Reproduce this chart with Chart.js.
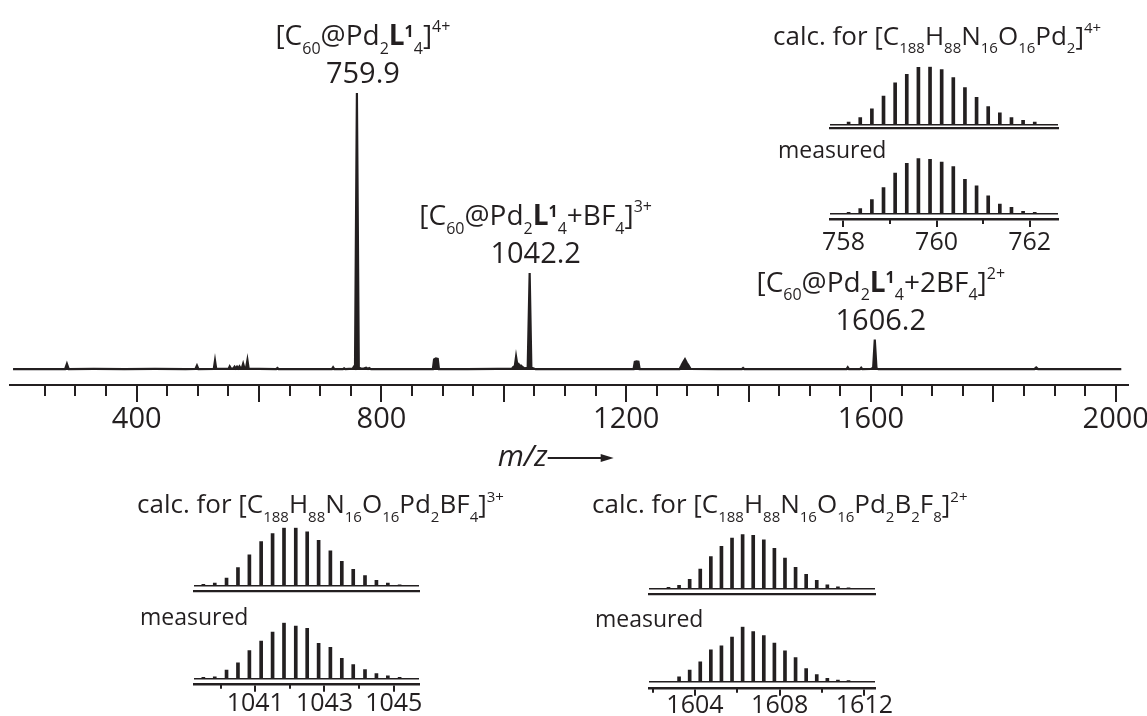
<!DOCTYPE html>
<html>
<head>
<meta charset="utf-8">
<title>ESI mass spectrum</title>
<script src="https://cdn.jsdelivr.net/npm/chart.js@4.4.1/dist/chart.umd.min.js"></script>
<style>
  html, body { margin: 0; padding: 0; background: #fff; width: 1147px; height: 716px; overflow: hidden; }
  .box { position: absolute; }
</style>
</head>
<body>
<div class="box" id="mainBox" style="left:0;top:0;width:1170px;height:716px"><canvas id="main"></canvas></div>
<script>
// full spectrum, m/z against relative intensity (%)
var specMz = [198, 240, 283, 286, 289, 330, 380, 430, 480, 496, 498.5, 501, 526, 528, 530, 550, 552, 554,
  558, 560, 562, 564, 566, 568, 570, 572, 574, 576, 579, 581, 583, 600, 628, 630, 632, 680, 719, 721, 723,
  737, 739, 741, 753, 755, 756.8, 759.9, 763, 766, 770, 775, 778, 780, 783, 830, 884, 886, 889, 892, 894,
  940, 990, 1013, 1015, 1018, 1020, 1022, 1024, 1026, 1028, 1031, 1034, 1039, 1042.2, 1045, 1048, 1052,
  1100, 1160, 1212, 1214, 1217, 1220, 1222, 1260, 1287, 1290, 1293, 1296, 1299, 1302, 1305, 1350, 1389,
  1391, 1393, 1450, 1500, 1560, 1562, 1564, 1582, 1584, 1586, 1600, 1603.5, 1606.2, 1609, 1612, 1680,
  1760, 1867, 1870, 1873, 1940, 2009];
var specInt = [0.3, 0.3, 0.3, 2.2, 0.3, 0.4, 0.3, 0.4, 0.3, 0.4, 1.6, 0.3, 0.4, 3.4, 0.4, 0.4, 1.3, 0.5,
  0.6, 1.2, 0.6, 1.2, 0.6, 1.3, 0.6, 0.8, 2.3, 0.8, 1.0, 3.6, 0.5, 0.4, 0.3, 0.7, 0.3, 0.3, 0.3, 1.0, 0.3,
  0.3, 0.6, 0.3, 0.5, 1.2, 0.8, 100, 0.8, 0.6, 0.4, 0.8, 0.4, 0.7, 0.3, 0.3, 0.3, 3.8, 4.2, 4.0, 0.3,
  0.3, 0.4, 0.4, 1.0, 1.5, 4.8, 2.0, 2.2, 1.4, 1.6, 1.0, 0.6, 0.8, 35, 0.8, 0.6, 0.3,
  0.3, 0.3, 0.3, 2.9, 3.1, 3.0, 0.3, 0.3, 0.3, 1.5, 2.8, 3.9, 2.6, 1.6, 0.4, 0.3, 0.3,
  0.7, 0.3, 0.3, 0.3, 0.3, 1.0, 0.3, 0.3, 0.8, 0.3, 0.4, 0.8, 11, 0.6, 0.3, 0.3,
  0.3, 0.3, 0.9, 0.3, 0.3, 0.3];

var mainRange = [193, 2020];
var mainMajor = [400, 600, 800, 1000, 1200, 1400, 1600, 1800, 2000];
var mainLabels = [400, 800, 1200, 1600, 2000];
var mainMinor = [250, 300, 350, 450, 500, 550, 650, 700, 750, 850, 900, 950, 1050, 1100, 1150, 1250, 1300,
  1350, 1450, 1500, 1550, 1650, 1700, 1750, 1850, 1900, 1950];

// labelled peaks
var labelMz = [759.9, 1042.2, 1606.2];
var labelInt = [100, 35, 11];
var labelText = ['759.9', '1042.2', '1606.2'];

// isotope patterns: 4+ ion
var mz759 = [758.11, 758.36, 758.61, 758.86, 759.11, 759.36, 759.61, 759.86, 760.11, 760.36, 760.61,
  760.86, 761.11, 761.36, 761.61, 761.86, 762.11];
var calc759 = [4, 12, 27, 49, 72, 87, 99, 100, 95, 81, 64, 47, 31, 20, 12, 7, 4];
var meas759 = [2, 9, 25, 47, 73, 91, 100, 98, 93, 85, 62, 50, 32, 17, 11, 4, 2];
var range759 = [757.71, 762.61];
var major759 = [758, 760, 762];
var minor759 = [759, 761];

// 3+ ion
var mz1042 = [1039.50, 1039.83, 1040.17, 1040.50, 1040.83, 1041.17, 1041.50, 1041.83, 1042.17, 1042.50,
  1042.83, 1043.17, 1043.50, 1043.83, 1044.17, 1044.50, 1044.83, 1045.17];
var calc1042 = [2, 4, 13, 31, 53, 76, 90, 100, 100, 93, 78, 60, 42, 28, 17, 9, 4, 1];
var meas1042 = [2, 3, 15, 28, 50, 67, 83, 100, 94, 90, 63, 56, 36, 25, 16, 9, 5, 2];
var range1042 = [1039.23, 1045.73];
var major1042 = [1041, 1043, 1045];
var minor1042 = [1040, 1042, 1044];

// 2+ ion
var mz1606 = [1602.75, 1603.25, 1603.75, 1604.25, 1604.75, 1605.25, 1605.75, 1606.25, 1606.75, 1607.25,
  1607.75, 1608.25, 1608.75, 1609.25, 1609.75, 1610.25, 1610.75, 1611.25];
var calc1606 = [2, 6, 17, 36, 59, 78, 93, 100, 98, 90, 74, 56, 39, 26, 15, 7, 3, 1];
var meas1606 = [0, 9, 21, 36, 58, 65, 81, 100, 91, 84, 70, 56, 44, 24, 13, 6, 3, 2];
var range1606 = [1601.83, 1612.5];
var major1606 = [1604, 1608, 1612];
var minor1606 = [1602, 1606, 1610];

var INK = '#231f20';
var FONT = '"Open Sans", "Noto Sans", sans-serif';

// formulas as runs of [text, kind]
var ionMain = [['[C', ''], ['60', 'sub'], ['@Pd', ''], ['2', 'sub'], ['L', 'b'], ['1', 'bsup'], ['4', 'sub']];
var ionLabels = [
  ionMain.concat([[']', ''], ['4+', 'sup']]),
  ionMain.concat([['+BF', ''], ['4', 'sub'], [']', ''], ['3+', 'sup']]),
  ionMain.concat([['+2BF', ''], ['4', 'sub'], [']', ''], ['2+', 'sup']])
];
var calcMain = [['calc. for [C', ''], ['188', 'sub'], ['H', ''], ['88', 'sub'], ['N', ''], ['16', 'sub'],
  ['O', ''], ['16', 'sub'], ['Pd', ''], ['2', 'sub']];
var calcTitles = [
  calcMain.concat([[']', ''], ['4+', 'sup']]),
  calcMain.concat([['BF', ''], ['4', 'sub'], [']', ''], ['3+', 'sup']]),
  calcMain.concat([['B', ''], ['2', 'sub'], ['F', ''], ['8', 'sub'], [']', ''], ['2+', 'sup']])
];

function drawRich(ctx, runs, x, y, size, center) {
  var small = Math.round(size * 0.57);
  var parts = runs.map(function (r) {
    var k = r[1];
    var isSmall = k === 'sub' || k === 'sup' || k === 'bsup';
    var bold = k === 'b' || k === 'bsup';
    var font = (bold ? '700 ' : '') + (isSmall ? small : size) + 'px ' + FONT;
    ctx.font = font;
    var dy = k === 'sub' ? size * 0.32 : k === 'sup' ? -size * 0.45 : k === 'bsup' ? -size * 0.3 : 0;
    return { t: r[0], font: font, w: ctx.measureText(r[0]).width, dy: dy };
  });
  var total = parts.reduce(function (a, p) { return a + p.w; }, 0);
  var cx = center ? x - total / 2 : x;
  ctx.textAlign = 'left';
  ctx.textBaseline = 'alphabetic';
  ctx.fillStyle = INK;
  parts.forEach(function (p) {
    ctx.font = p.font;
    ctx.fillText(p.t, cx, y + p.dy);
    cx += p.w;
  });
}

var minorTicks = {
  id: 'minorTicks',
  afterDraw: function (chart, args, opts) {
    if (!opts.values) return;
    var s = chart.scales.x, ctx = chart.ctx;
    ctx.save();
    ctx.strokeStyle = INK;
    ctx.lineWidth = opts.width;
    opts.values.forEach(function (v) {
      var px = Math.round(s.getPixelForValue(v));
      ctx.beginPath();
      ctx.moveTo(px, s.top);
      ctx.lineTo(px, s.top + opts.length);
      ctx.stroke();
    });
    ctx.restore();
  }
};

var peakLabels = {
  id: 'peakLabels',
  afterDatasetsDraw: function (chart) {
    var xs = chart.scales.x, ys = chart.scales.y, ctx = chart.ctx;
    ctx.save();
    labelMz.forEach(function (m, i) {
      var x = xs.getPixelForValue(m) + 6;
      var yb = ys.getPixelForValue(labelInt[i]) - 10;
      ctx.font = '29px ' + FONT;
      ctx.fillStyle = INK;
      ctx.textAlign = 'center';
      ctx.textBaseline = 'alphabetic';
      ctx.fillText(labelText[i], x, yb);
      drawRich(ctx, ionLabels[i], x, yb - 38, 28, true);
    });
    ctx.restore();
  }
};

var axisTitle = {
  id: 'axisTitle',
  afterDraw: function (chart) {
    var xs = chart.scales.x, ctx = chart.ctx;
    var x = xs.getPixelForValue(990), y = xs.top + 81;
    ctx.save();
    ctx.fillStyle = INK;
    ctx.strokeStyle = INK;
    ctx.font = 'italic 30px ' + FONT;
    ctx.textAlign = 'left';
    ctx.textBaseline = 'alphabetic';
    ctx.fillText('m/z', x, y);
    var x0 = x + ctx.measureText('m/z').width, ya = y - 8;
    ctx.lineWidth = 2;
    ctx.beginPath();
    ctx.moveTo(x0, ya);
    ctx.lineTo(x0 + 56, ya);
    ctx.stroke();
    ctx.beginPath();
    ctx.moveTo(x0 + 66, ya);
    ctx.lineTo(x0 + 53, ya - 4);
    ctx.lineTo(x0 + 53, ya + 4);
    ctx.closePath();
    ctx.fill();
    ctx.restore();
  }
};

var caption = {
  id: 'caption',
  afterDraw: function (chart, args, opts) {
    if (!opts.runs) return;
    var a = chart.chartArea;
    chart.ctx.save();
    drawRich(chart.ctx, opts.runs, a.left + opts.dx, a.top + opts.dy, opts.size, false);
    chart.ctx.restore();
  }
};

new Chart(document.getElementById('main'), {
  type: 'line',
  data: {
    datasets: [{
      data: specMz.map(function (x, i) { return { x: x, y: specInt[i] }; }),
      borderColor: INK,
      backgroundColor: INK,
      borderWidth: 2.2,
      pointRadius: 0,
      tension: 0,
      fill: { value: 0 },
      clip: false
    }]
  },
  options: {
    responsive: true,
    maintainAspectRatio: false,
    animation: false,
    layout: { padding: { left: 10, right: 42, top: 93, bottom: 0 } },
    plugins: {
      legend: { display: false },
      tooltip: { enabled: false },
      filler: { propagate: false },
      minorTicks: { values: mainMinor, length: 11, width: 2 }
    },
    scales: {
      x: {
        type: 'linear',
        min: mainRange[0],
        max: mainRange[1],
        afterBuildTicks: function (s) { s.ticks = mainMajor.map(function (v) { return { value: v }; }); },
        afterFit: function (s) { s.height = 716 - 385; },
        ticks: {
          autoSkip: false,
          maxRotation: 0,
          padding: 0,
          color: INK,
          font: { family: FONT, size: 29 },
          callback: function (v) { return mainLabels.indexOf(v) >= 0 ? String(v) : ''; }
        },
        grid: { drawOnChartArea: false, tickLength: 17, color: INK, lineWidth: 2 },
        border: { color: INK, width: 2 }
      },
      y: { display: false, min: -100 * 15 / 277, max: 100 }
    }
  },
  plugins: [minorTicks, peakLabels, axisTitle]
});

// inset panels: chart-area geometry in page pixels
var panels = [
  { left: 830, right: 1058, top: 66.7, base: 124.5, axis: 128.5, mz: mz759, vals: calc759, range: range759,
    title: calcTitles[0], dx: -57, dy: -21.7, size: 26 },
  { left: 830, right: 1058, top: 158.3, base: 213.5, axis: 219.5, mz: mz759, vals: meas759, range: range759,
    title: [['measured', '']], dx: -52, dy: 0, size: 23, major: major759, minor: minor759, pad: 1 },
  { left: 194, right: 419, top: 527.7, base: 585.5, axis: 590.7, mz: mz1042, vals: calc1042, range: range1042,
    title: calcTitles[1], dx: -57, dy: -14.4, size: 26 },
  { left: 194, right: 419, top: 622.7, base: 678.5, axis: 684.3, mz: mz1042, vals: meas1042, range: range1042,
    title: [['measured', '']], dx: -54, dy: 2.3, size: 23, major: major1042, minor: minor1042, pad: -3 },
  { left: 649, right: 875, top: 534.3, base: 588.5, axis: 594.3, mz: mz1606, vals: calc1606, range: range1606,
    title: calcTitles[2], dx: -57, dy: -21, size: 26 },
  { left: 649, right: 875, top: 626.7, base: 681.7, axis: 688.3, mz: mz1606, vals: meas1606, range: range1606,
    title: [['measured', '']], dx: -54, dy: 0, size: 23, major: major1606, minor: minor1606, pad: -5 }
];

panels.forEach(function (P) {
  var hasTicks = !!P.major;
  var L = Math.floor(P.left) - 70, T = Math.floor(P.top) - 60;
  var W = Math.ceil(P.right) + 130 - L;
  var axisH = hasTicks ? 40 : 0;
  var H = Math.ceil(P.axis) + axisH + 10 - T;
  var div = document.createElement('div');
  div.className = 'box';
  div.style.cssText = 'left:' + L + 'px;top:' + T + 'px;width:' + W + 'px;height:' + H + 'px';
  var cv = document.createElement('canvas');
  div.appendChild(cv);
  document.body.appendChild(div);

  new Chart(cv, {
    type: 'bar',
    data: {
      datasets: [{
        data: P.mz.map(function (x, i) { return { x: x, y: P.vals[i] }; }),
        backgroundColor: INK,
        borderWidth: 0,
        barThickness: 3
      }]
    },
    options: {
      responsive: true,
      maintainAspectRatio: false,
      animation: false,
      layout: { padding: { left: P.left - L, right: L + W - P.right, top: P.top - T, bottom: T + H - P.axis - axisH } },
      plugins: {
        legend: { display: false },
        tooltip: { enabled: false },
        caption: { runs: P.title, dx: P.dx, dy: P.dy, size: P.size },
        minorTicks: hasTicks ? { values: P.minor, length: 4.5, width: 2 } : {}
      },
      scales: {
        x: {
          type: 'linear',
          min: P.range[0],
          max: P.range[1],
          offset: false,
          afterBuildTicks: function (s) { s.ticks = (P.major || []).map(function (v) { return { value: v }; }); },
          afterFit: function (s) { s.height = axisH; },
          ticks: {
            display: hasTicks,
            autoSkip: false,
            maxRotation: 0,
            padding: P.pad || 0,
            color: INK,
            font: { family: FONT, size: 25 },
            callback: function (v) { return String(v); }
          },
          grid: { offset: false, drawOnChartArea: false, drawTicks: hasTicks, tickLength: 7.5, color: INK, lineWidth: 2 },
          border: { color: INK, width: hasTicks ? 2.5 : 2.2 }
        },
        y: {
          min: -100 * (P.axis - P.base) / (P.base - P.top),
          max: 100,
          afterBuildTicks: function (s) { s.ticks = [{ value: 0 }]; },
          ticks: { display: false },
          border: { display: false },
          grid: { drawTicks: false, color: INK, lineWidth: 1.5 }
        }
      }
    },
    plugins: [caption, minorTicks]
  });
});
</script>
</body>
</html>
